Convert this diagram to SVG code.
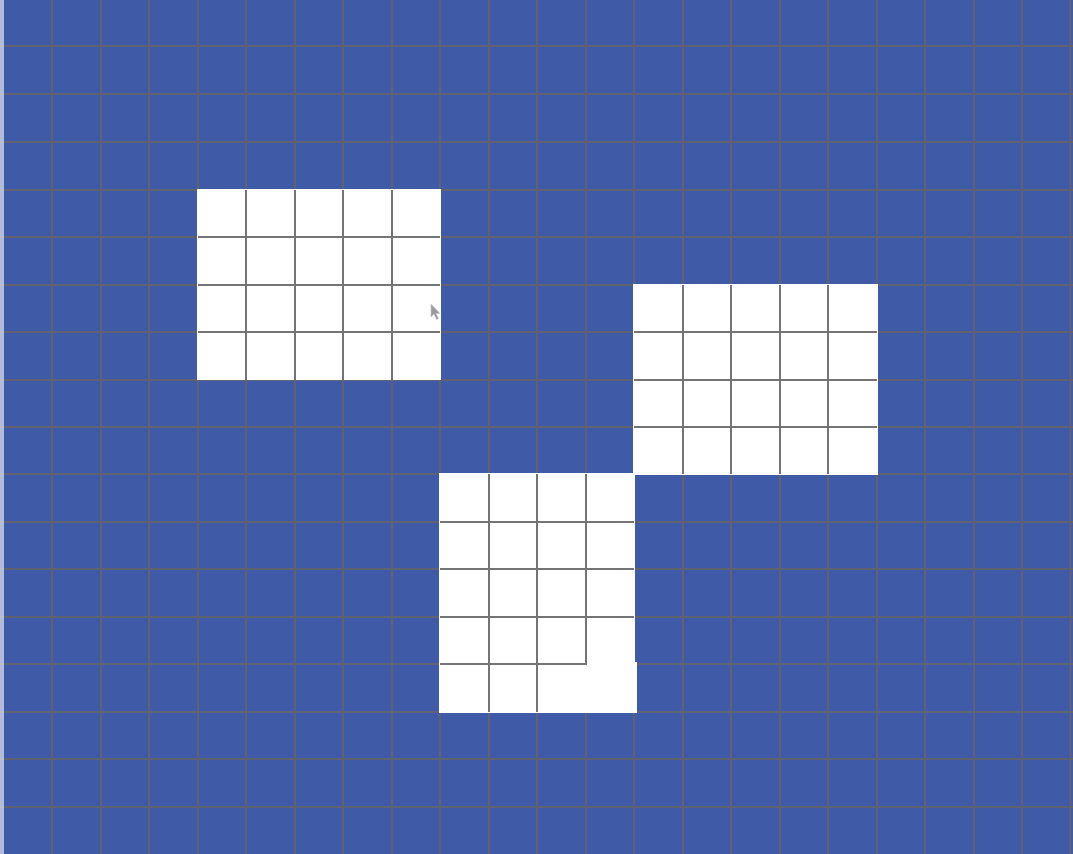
<svg xmlns="http://www.w3.org/2000/svg" width="1073" height="854" viewBox="0 0 1073 854">
<style>
.bg{fill:#3f5ba7}
.blk{fill:#ffffff}
.g{stroke:#5f6272;stroke-width:2;fill:none}
.gi{stroke:#747474;stroke-width:2;fill:none}
.edge{fill:#e4e6ef}
.cur{fill:#9a9a9a;stroke:#c8c8c8;stroke-width:0.6}
</style>
<rect class="bg" x="0" y="0" width="1073" height="854"/>
<g id="grid" class="g">
<path d="M52 0V854M101 0V854M149 0V854M198 0V854M246 0V854M295 0V854M343 0V854M392 0V854M440 0V854M489 0V854M537 0V854M586 0V854M634 0V854M683 0V854M731 0V854M780 0V854M828 0V854M877 0V854M925 0V854M974 0V854M1022 0V854M1070.5 0V854"/>
<path d="M0 46H1073M0 94H1073M0 142H1073M0 190H1073M0 237H1073M0 285H1073M0 332H1073M0 380H1073M0 427H1073M0 474H1073M0 522H1073M0 569H1073M0 617H1073M0 664H1073M0 712H1073M0 759H1073M0 807H1073"/>
</g>
<rect class="edge" x="0" y="0" width="4" height="854" opacity="0.7"/>
<g id="block1">
<rect class="blk" x="197" y="189" width="244" height="191"/>
<path class="gi" d="M246 190V380M295 190V380M343 190V380M392 190V380M198 237H440M198 285H440M198 332H440"/>
<path class="cur" d="M431 304L431 317L434 314L436.5 319.5L438.5 318.5L436 313.5L440 313.5Z"/>
</g>
<g id="block2">
<rect class="blk" x="633" y="284" width="245" height="191"/>
<path class="gi" d="M683 285V474M731 285V474M780 285V474M828 285V474M634 332H877M634 380H877M634 427H877"/>
</g>
<g id="block3">
<rect class="blk" x="439" y="473" width="196" height="240"/>
<rect class="blk" x="586" y="662" width="51" height="51"/>
<path class="gi" d="M489 474V712M537 474V712M586 474V664H440M440 522H634M440 569H634M440 617H634"/>
</g>
</svg>
